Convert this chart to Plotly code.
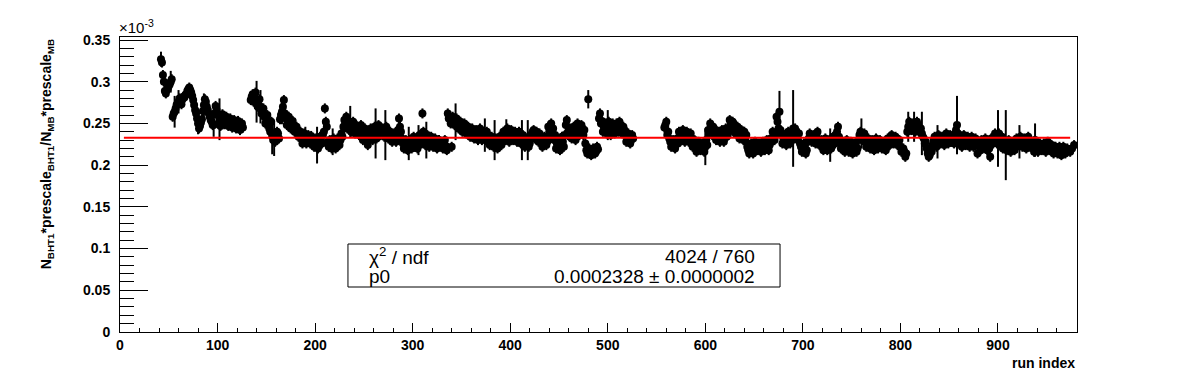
import plotly.graph_objects as go

# ---------------- data (y in units of 1e-3) ----------------
seg1_start = 42
seg1_vals = [0.327, 0.308, 0.289, 0.290, 0.295, 0.300, 0.258, 0.264, 0.272, 0.276,
             0.277, 0.279, 0.281, 0.285, 0.291, 0.290, 0.283, 0.272, 0.262, 0.250,
             0.247, 0.255, 0.272, 0.276, 0.266, 0.258, 0.252, 0.248, 0.271, 0.260,
             0.255, 0.256, 0.254, 0.255, 0.253, 0.252, 0.251, 0.250, 0.249, 0.248,
             0.247, 0.246, 0.245]

seg2_start = 134
seg2_vals = [0.278, 0.285, 0.280, 0.276, 0.272, 0.270, 0.264, 0.258, 0.254, 0.248,
             0.240, 0.235, 0.231, 0.234, 0.238, 0.255, 0.264, 0.278, 0.256, 0.252,
             0.255, 0.250, 0.247, 0.242, 0.240, 0.236, 0.232, 0.228, 0.234, 0.229,
             0.231, 0.235, 0.230,
             0.227, 0.224, 0.228, 0.232, 0.236, 0.268, 0.246, 0.222, 0.226, 0.228,
             0.224, 0.226, 0.228, 0.230, 0.234, 0.254, 0.258, 0.250, 0.252, 0.244,
             0.250, 0.246, 0.242, 0.240, 0.244, 0.238, 0.236, 0.224, 0.238, 0.236,
             0.240, 0.238, 0.242, 0.244, 0.238, 0.240, 0.236, 0.242, 0.238, 0.236,
             0.234, 0.232, 0.236, 0.256, 0.240, 0.226, 0.224, 0.222, 0.226, 0.224,
             0.228, 0.222, 0.226, 0.230, 0.232, 0.262, 0.232, 0.230, 0.228, 0.232,
             0.230, 0.226, 0.228, 0.226, 0.224, 0.227, 0.225, 0.223, 0.262, 0.258,
             0.222, 0.254, 0.252, 0.250, 0.248, 0.246, 0.248, 0.244, 0.242, 0.240,
             0.238, 0.240,
             0.236, 0.240, 0.234, 0.238, 0.232, 0.236, 0.240, 0.234, 0.228, 0.226,
             0.230, 0.224, 0.228, 0.226, 0.230, 0.236, 0.240, 0.234, 0.238, 0.236,
             0.232, 0.238, 0.234, 0.236, 0.230, 0.228, 0.226, 0.230, 0.226, 0.232,
             0.242, 0.236, 0.234, 0.238, 0.228, 0.226, 0.230, 0.228, 0.240, 0.250,
             0.244, 0.236, 0.226, 0.222, 0.224, 0.228, 0.236, 0.254, 0.242, 0.238,
             0.240, 0.236, 0.244, 0.246, 0.242, 0.244, 0.242, 0.218, 0.279, 0.216,
             0.214, 0.218, 0.216, 0.219, 0.262, 0.253, 0.246, 0.244, 0.248, 0.242,
             0.246, 0.244, 0.240, 0.246, 0.252, 0.244, 0.246, 0.240, 0.232, 0.234,
             0.230, 0.232]

seg3_start = 558
seg3_vals = [0.245, 0.252, 0.240, 0.228, 0.226, 0.224, 0.228, 0.226, 0.234, 0.238,
             0.236, 0.232, 0.236, 0.234, 0.230, 0.226, 0.222, 0.220, 0.224, 0.222,
             0.218, 0.222, 0.224, 0.238, 0.242, 0.246, 0.240, 0.236, 0.234, 0.236,
             0.232, 0.238, 0.234, 0.240, 0.248, 0.252, 0.246, 0.244, 0.242, 0.238,
             0.236, 0.240, 0.236, 0.218, 0.222, 0.218, 0.220, 0.224, 0.222, 0.220,
             0.224, 0.222, 0.226, 0.222, 0.224, 0.228, 0.234, 0.236, 0.252, 0.264,
             0.238, 0.232, 0.228, 0.232, 0.236, 0.230, 0.244,
             0.244, 0.236, 0.238, 0.222, 0.220, 0.224, 0.218, 0.232, 0.234, 0.230,
             0.232, 0.236, 0.230, 0.226, 0.224, 0.228, 0.222, 0.226, 0.224, 0.228,
             0.230, 0.236, 0.246, 0.228, 0.224, 0.222, 0.226, 0.220, 0.224, 0.222,
             0.218, 0.224, 0.220, 0.236, 0.238, 0.232, 0.234, 0.226, 0.228, 0.224,
             0.222, 0.228, 0.226, 0.224, 0.228, 0.222, 0.226, 0.224, 0.228, 0.232,
             0.230, 0.228, 0.232, 0.226, 0.222, 0.218, 0.216, 0.214, 0.246, 0.248,
             0.244, 0.246, 0.242, 0.248, 0.244, 0.238, 0.232, 0.228, 0.214, 0.212,
             0.216, 0.230, 0.226, 0.228, 0.232, 0.230, 0.228, 0.234, 0.230, 0.232,
             0.228, 0.236,
             0.232, 0.248, 0.234, 0.230, 0.228, 0.232, 0.230, 0.226, 0.232, 0.228,
             0.230, 0.226, 0.228, 0.218, 0.220, 0.226, 0.228, 0.224, 0.210, 0.226,
             0.230, 0.234, 0.232, 0.228, 0.234, 0.230, 0.224, 0.222, 0.226, 0.220,
             0.224, 0.222, 0.226, 0.228, 0.230, 0.226, 0.228, 0.224, 0.230, 0.226,
             0.228, 0.230, 0.222, 0.224, 0.220, 0.222, 0.224, 0.220, 0.222, 0.224,
             0.220, 0.222, 0.218, 0.220, 0.216, 0.218, 0.220, 0.216, 0.218, 0.216,
             0.220, 0.224]

# second, interleaved layer of runs (odd run indices)
odd1_start = 43
odd1_vals = [0.323, 0.300, 0.286, 0.292, 0.297, 0.303, 0.262, 0.268, 0.274, 0.280,
             0.273, 0.282, 0.284, 0.289, 0.293, 0.287, 0.278, 0.266, 0.256, 0.244,
             0.251, 0.265, 0.279, 0.270, 0.262, 0.254, 0.248, 0.262, 0.266, 0.250,
             0.247, 0.261, 0.249, 0.258, 0.247, 0.256, 0.245, 0.254, 0.244, 0.253,
             0.242, 0.250]

odd2_start = 135
odd2_vals = [0.282, 0.276, 0.287, 0.270, 0.279, 0.262, 0.268, 0.250, 0.260, 0.244,
             0.252, 0.230, 0.228, 0.240, 0.232, 0.260, 0.270, 0.262, 0.248, 0.258,
             0.244, 0.253, 0.240, 0.246, 0.234, 0.240, 0.226, 0.238, 0.226, 0.236,
             0.226, 0.232, 0.222,
             0.232, 0.220, 0.234, 0.226, 0.240, 0.252, 0.228, 0.230, 0.220, 0.232,
             0.220, 0.232, 0.224, 0.238, 0.246, 0.250, 0.244, 0.248, 0.240, 0.252,
             0.238, 0.246, 0.236, 0.248, 0.230, 0.244, 0.232, 0.230, 0.244, 0.230,
             0.246, 0.232, 0.248, 0.236, 0.244, 0.234, 0.246, 0.232, 0.240, 0.228,
             0.238, 0.228, 0.242, 0.246, 0.232, 0.220, 0.230, 0.218, 0.230, 0.220,
             0.234, 0.226, 0.220, 0.236, 0.226, 0.240, 0.224, 0.236, 0.222, 0.234,
             0.222, 0.232, 0.220, 0.230, 0.228, 0.220, 0.230, 0.218, 0.256, 0.250,
             0.258, 0.248, 0.256, 0.244, 0.252, 0.240, 0.250, 0.238, 0.246, 0.234,
             0.244, 0.232,
             0.242, 0.230, 0.244, 0.230, 0.240, 0.230, 0.236, 0.224, 0.234, 0.222,
             0.232, 0.220, 0.234, 0.224, 0.240, 0.230, 0.244, 0.228, 0.242, 0.230,
             0.240, 0.228, 0.240, 0.226, 0.236, 0.222, 0.232, 0.222, 0.236, 0.240,
             0.232, 0.240, 0.228, 0.232, 0.222, 0.234, 0.224, 0.246, 0.236, 0.242,
             0.230, 0.220, 0.230, 0.218, 0.234, 0.222, 0.248, 0.236, 0.244, 0.232,
             0.246, 0.230, 0.250, 0.236, 0.248, 0.236, 0.226, 0.214, 0.220, 0.212,
             0.220, 0.214, 0.222, 0.256, 0.250, 0.240, 0.250, 0.238, 0.252, 0.236,
             0.250, 0.238, 0.250, 0.240, 0.248, 0.238, 0.242, 0.228, 0.238, 0.226,
             0.236]

odd3_start = 559
odd3_vals = [0.248, 0.236, 0.232, 0.222, 0.230, 0.220, 0.232, 0.240, 0.230, 0.242,
             0.228, 0.240, 0.228, 0.238, 0.222, 0.230, 0.216, 0.228, 0.218, 0.226,
             0.216, 0.230, 0.242, 0.250, 0.236, 0.244, 0.230, 0.240, 0.228, 0.242,
             0.228, 0.244, 0.236, 0.254, 0.244, 0.250, 0.238, 0.246, 0.232, 0.242,
             0.230, 0.230, 0.222, 0.214, 0.226, 0.214, 0.228, 0.218, 0.226, 0.216,
             0.228, 0.218, 0.230, 0.218, 0.232, 0.240, 0.230, 0.258, 0.244, 0.242,
             0.226, 0.236, 0.224, 0.240, 0.226, 0.238, 0.232,
             0.240, 0.230, 0.226, 0.216, 0.226, 0.214, 0.228, 0.238, 0.228, 0.236,
             0.226, 0.240, 0.224, 0.230, 0.218, 0.232, 0.218, 0.230, 0.220, 0.234,
             0.226, 0.240, 0.234, 0.220, 0.228, 0.216, 0.230, 0.216, 0.228, 0.214,
             0.226, 0.216, 0.230, 0.240, 0.230, 0.238, 0.222, 0.232, 0.220, 0.230,
             0.218, 0.232, 0.220, 0.230, 0.220, 0.228, 0.218, 0.232, 0.224, 0.236,
             0.226, 0.234, 0.224, 0.230, 0.216, 0.220, 0.210, 0.240, 0.252, 0.242,
             0.250, 0.240, 0.252, 0.240, 0.244, 0.234, 0.226, 0.220, 0.210, 0.218,
             0.224, 0.234, 0.222, 0.236, 0.226, 0.234, 0.224, 0.238, 0.226, 0.236,
             0.230,
             0.226, 0.242, 0.228, 0.236, 0.222, 0.236, 0.224, 0.234, 0.222, 0.234,
             0.222, 0.232, 0.214, 0.224, 0.230, 0.222, 0.232, 0.218, 0.220, 0.232,
             0.226, 0.238, 0.226, 0.238, 0.226, 0.220, 0.228, 0.218, 0.230, 0.216,
             0.228, 0.218, 0.232, 0.224, 0.234, 0.222, 0.232, 0.220, 0.234, 0.222,
             0.226, 0.216, 0.228, 0.216, 0.226, 0.218, 0.226, 0.216, 0.228, 0.218,
             0.224, 0.214, 0.222, 0.214, 0.222, 0.212, 0.222, 0.214, 0.220, 0.218]

run_step = 2
default_err = 0.006
large_errors = {42: 0.009, 52: 0.013, 56: 0.019, 60: 0.014, 80: 0.013, 86: 0.014,
                96: 0.014, 102: 0.025, 140: 0.025, 144: 0.020, 156: 0.022, 158: 0.020,
                166: 0.015, 190: 0.012, 202: 0.022, 218: 0.016, 236: 0.019, 262: 0.030,
                272: 0.030, 296: 0.020, 306: 0.018, 314: 0.022, 344: 0.022, 374: 0.020,
                384: 0.024, 396: 0.015, 412: 0.024, 418: 0.024, 480: 0.011, 500: 0.018,
                600: 0.022, 676: 0.025, 690: 0.046, 728: 0.020, 760: 0.018, 808: 0.018,
                814: 0.018, 822: 0.026, 838: 0.020, 858: 0.035, 900: 0.034, 908: 0.042,
                922: 0.020, 938: 0.020}

fit_p0 = 0.2328
fit_xmin, fit_xmax = 4, 974
chi2_text = "4024 / 760"
p0_text = "0.0002328 \u00b1 0.0000002"

x_range = [0, 981]
y_range = [0, 0.3536]

# ---------------- assemble ----------------
runs, vals = [], []
for start, seg in ((seg1_start, seg1_vals), (seg2_start, seg2_vals), (seg3_start, seg3_vals),
                   (odd1_start, odd1_vals), (odd2_start, odd2_vals), (odd3_start, odd3_vals)):
    for i, v in enumerate(seg):
        runs.append(start + run_step * i)
        vals.append(v)
errs = [large_errors.get(r, default_err) for r in runs]

FONT = "Liberation Sans Narrow, Arial Narrow, Liberation Sans, Arial, sans-serif"

fig = go.Figure()
fig.add_trace(go.Scatter(
    x=runs, y=vals, mode="markers",
    marker=dict(symbol="circle", size=8, color="black"),
    error_y=dict(type="data", array=errs, color="black", thickness=2, width=0),
    showlegend=False, hoverinfo="x+y"))
fig.add_trace(go.Scatter(
    x=[fit_xmin, fit_xmax], y=[fit_p0, fit_p0], mode="lines",
    line=dict(color="red", width=2), showlegend=False))

fig.update_layout(
    width=1196, height=372,
    margin=dict(l=120, r=119, t=37, b=40),
    paper_bgcolor="white", plot_bgcolor="white",
    font=dict(family=FONT, color="black"),
)
fig.update_xaxes(
    range=x_range, showgrid=False, zeroline=False,
    showline=True, linecolor="black", linewidth=1, mirror=True,
    ticks="inside", ticklen=9, tickwidth=1, tickcolor="black",
    tick0=0, dtick=100,
    minor=dict(ticks="inside", ticklen=4.5, dtick=20, tickcolor="black", showgrid=False),
    tickfont=dict(family=FONT, size=14, weight="bold", color="black"),
    ticklabelstandoff=0,
)
fig.update_yaxes(
    range=y_range, showgrid=False, zeroline=False,
    showline=True, linecolor="black", linewidth=1, mirror=True,
    ticks="inside", ticklen=28, tickwidth=1, tickcolor="black",
    tick0=0, dtick=0.05,
    minor=dict(ticks="inside", ticklen=14, dtick=0.01, tickcolor="black", showgrid=False),
    tickfont=dict(family=FONT, size=14, weight="bold", color="black"),
    ticklabelstandoff=6,
)

# axis titles & exponent
fig.add_annotation(
    text="<b>N<sub>BHT1</sub>*prescale<sub>BHT1</sub>/N<sub>MB</sub>*prescale<sub>MB</sub></b>",
    xref="paper", yref="paper", x=-0.076, y=1.0, xanchor="center", yanchor="top",
    textangle=-90, showarrow=False, font=dict(family=FONT, size=14, color="black"))
fig.add_annotation(
    text="<b>run index</b>", xref="paper", yref="paper", x=1.0, y=-0.105,
    xanchor="right", yanchor="middle", showarrow=False,
    font=dict(family=FONT, size=14, color="black"))
fig.add_annotation(
    text="\u00d710<sup>-3</sup>", xref="paper", yref="paper", x=-0.003, y=0.995,
    xanchor="left", yanchor="bottom", showarrow=False,
    font=dict(family=FONT, size=15, color="black"))

# stats box
fig.add_shape(type="rect", xref="paper", yref="paper",
              x0=0.2382, x1=0.6897, y0=0.1525, y1=0.2983,
              line=dict(color="black", width=1), fillcolor="white", layer="above")
for txt, xx, anc, yy in (("\u03c7<sup>2</sup> / ndf", 0.2581, "left", 0.2576),
                         (chi2_text, 0.6656, "right", 0.2576),
                         ("p0", 0.2581, "left", 0.1898),
                         (p0_text, 0.6656, "right", 0.1898)):
    fig.add_annotation(text=txt, xref="paper", yref="paper", x=xx, y=yy,
                       xanchor=anc, yanchor="middle", showarrow=False,
                       font=dict(family=FONT, size=19, color="black"))

fig.write_html("out.html", config={"displayModeBar": False})

# remove the default page margin so the figure sits at the window origin
with open("out.html", "r", encoding="utf-8") as f:
    html = f.read()
html = html.replace("<head>", "<head><style>html,body{margin:0;padding:0;overflow:hidden;}</style>", 1)
with open("out.html", "w", encoding="utf-8") as f:
    f.write(html)
